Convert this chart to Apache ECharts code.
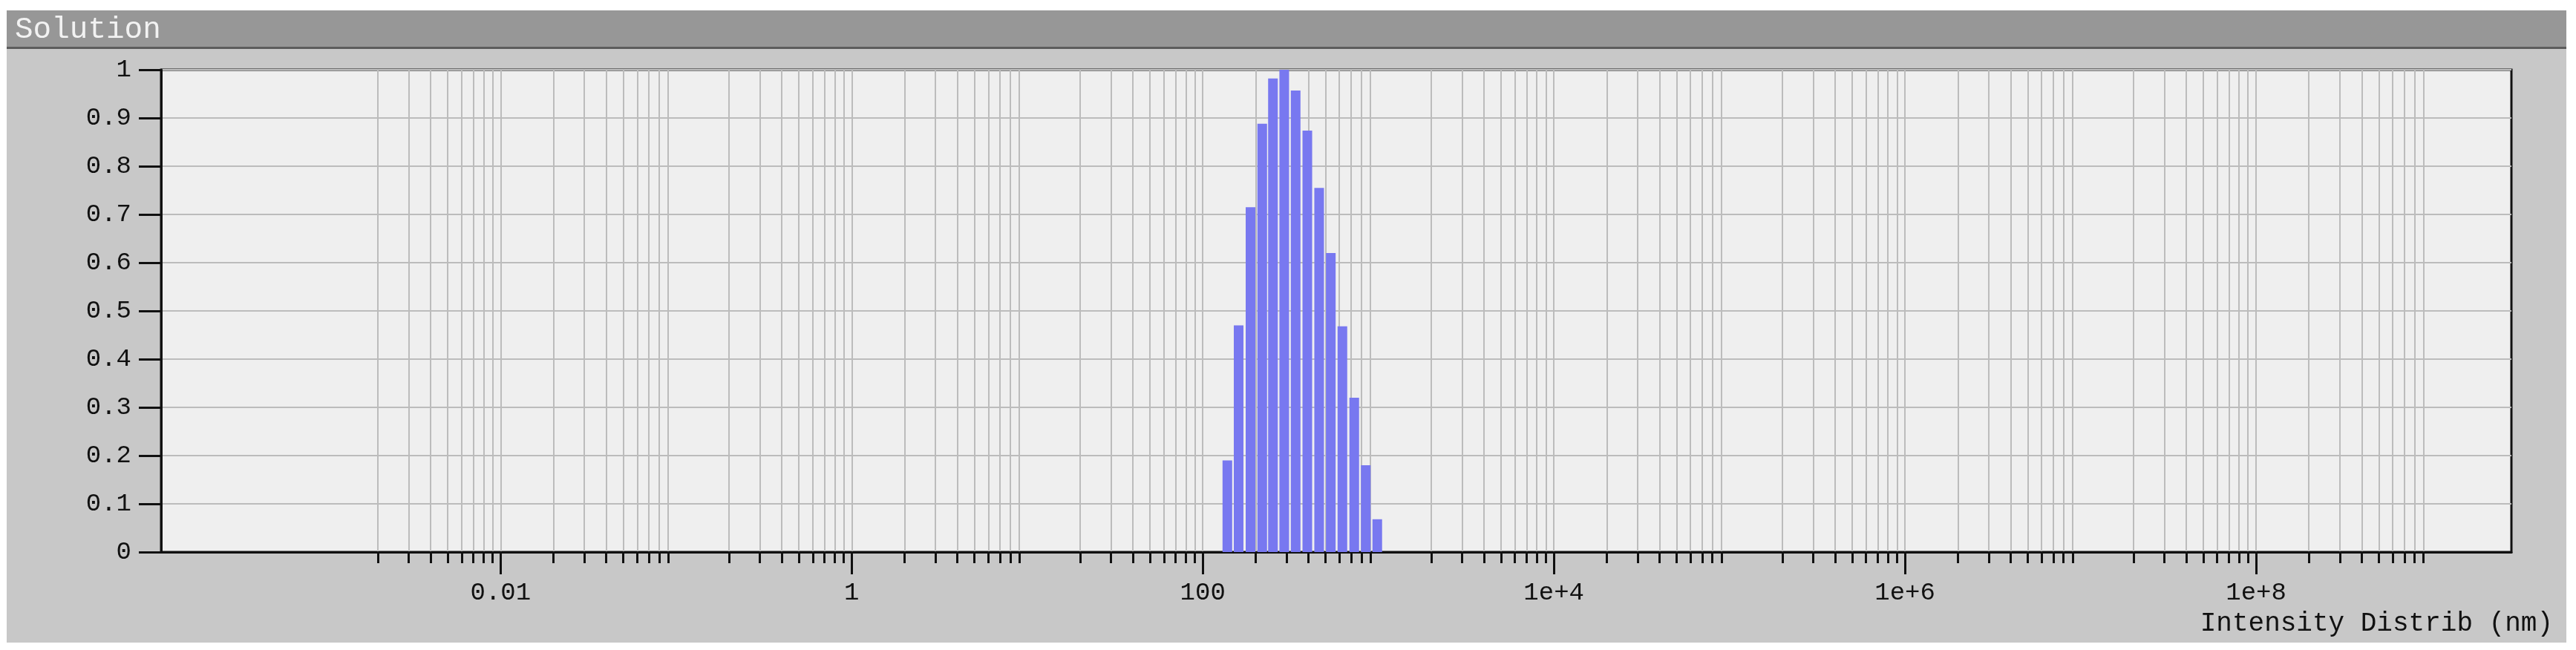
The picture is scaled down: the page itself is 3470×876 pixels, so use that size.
<!DOCTYPE html>
<html>
<head>
<meta charset="utf-8">
<style>
html,body{margin:0;padding:0;background:#ffffff;}
#chart{width:3470px;height:876px;}
</style>
<script src="https://cdn.jsdelivr.net/npm/echarts@6/dist/echarts.min.js"></script>
</head>
<body>
<div id="chart"></div>
<script>
// ---- data ----
const chartTitle = 'Solution';
const axisTitle = 'Intensity Distrib (nm)';
// bin sizes (nm) at the bar centres
const sizes = [138, 160, 187, 218, 251, 291, 338, 394, 460, 536, 624, 729, 848, 986];
// normalised intensity
const intensity = [0.19, 0.47, 0.715, 0.888, 0.982, 1.0, 0.957, 0.874, 0.755, 0.62, 0.468, 0.32, 0.18, 0.068];
// labelled (major) ticks
const majorTicks = [0.01, 1, 100, 1e4, 1e6, 1e8];
const majorLabels = ['0.01', '1', '100', '1e+4', '1e+6', '1e+8'];
// minor grid ticks: mantissas 2..9 in each decade
const minorMantissas = [2, 3, 4, 5, 6, 7, 8, 9];
const minorDecades = [-3, -2, -1, 0, 1, 2, 3, 4, 5, 6, 7, 8];
// axis range
const xMin = 1.164e-4;
const xMax = 2.848e9;
const yTicks = ['0', '0.1', '0.2', '0.3', '0.4', '0.5', '0.6', '0.7', '0.8', '0.9', '1'];

const minorTicks = [];
minorDecades.forEach(function (d) {
  minorMantissas.forEach(function (m) {
    minorTicks.push(parseFloat((m * Math.pow(10, d)).toPrecision(6)));
  });
});

const FONT = 'Liberation Mono';
const chart = echarts.init(document.getElementById('chart'), null, {renderer: 'canvas'});

const option = {
  backgroundColor: '#ffffff',
  animation: false,
  title: {
    text: chartTitle,
    left: 20,
    top: 20,
    padding: 0,
    textStyle: {color: '#f2f2f2', fontFamily: FONT, fontSize: 41, fontWeight: 'normal'}
  },
  graphic: [
    {type: 'rect', z: -10, shape: {x: 9, y: 14, width: 3448, height: 852}, style: {fill: '#c8c8c8'}},
    {type: 'rect', z: -9, shape: {x: 9, y: 14, width: 3448, height: 50}, style: {fill: '#979797'}},
    {type: 'rect', z: -9, shape: {x: 9, y: 63, width: 3448, height: 3}, style: {fill: '#5c5c5c'}}
  ],
  grid: {
    left: 217, top: 94, width: 3166, height: 650,
    show: true, backgroundColor: '#efefef', borderColor: '#111111', borderWidth: 3
  },
  xAxis: [
    {
      type: 'log', min: xMin, max: xMax, position: 'bottom',
      name: axisTitle, nameLocation: 'end', nameGap: 56,
      nameTextStyle: {fontFamily: FONT, fontSize: 36, color: '#111', align: 'right', verticalAlign: 'top', padding: [78, 0, 0, 0]},
      axisLine: {show: true, lineStyle: {color: '#111111', width: 3}},
      axisTick: {show: true, customValues: majorTicks, length: 30, inside: false, lineStyle: {color: '#111111', width: 3}},
      axisLabel: {
        show: true, customValues: majorTicks, margin: 38,
        fontFamily: FONT, fontSize: 34, color: '#111111',
        formatter: function (v) {
          const i = majorTicks.findIndex(function (t) { return Math.abs(Math.log10(t) - Math.log10(v)) < 1e-6; });
          return i >= 0 ? majorLabels[i] : '';
        }
      },
      splitLine: {show: true, lineStyle: {color: '#bcbcbc', width: 2}},
      minorTick: {show: false}
    },
    {
      type: 'log', min: xMin, max: xMax, position: 'bottom', gridIndex: 0,
      axisLine: {show: false},
      axisTick: {show: true, customValues: minorTicks, length: 15, inside: false, lineStyle: {color: '#111111', width: 3}},
      axisLabel: {show: false},
      splitLine: {show: true, lineStyle: {color: '#bcbcbc', width: 2}}
    }
  ],
  yAxis: {
    type: 'value', min: 0, max: 1, interval: 0.1,
    axisLine: {show: true, lineStyle: {color: '#111111', width: 3}},
    axisTick: {show: true, length: 30, inside: false, lineStyle: {color: '#111111', width: 3}},
    axisLabel: {
      margin: 40, fontFamily: FONT, fontSize: 34, color: '#111111',
      formatter: function (v) { return yTicks[Math.round(v * 10)]; }
    },
    splitLine: {show: true, lineStyle: {color: '#bcbcbc', width: 2}}
  },
  series: [{
    type: 'bar',
    xAxisIndex: 0,
    yAxisIndex: 0,
    barWidth: 13,
    itemStyle: {color: '#7878f0'},
    data: sizes.map(function (s, i) { return [s, intensity[i]]; }),
    z: 5
  }]
};
chart.setOption(option);
</script>
</body>
</html>
